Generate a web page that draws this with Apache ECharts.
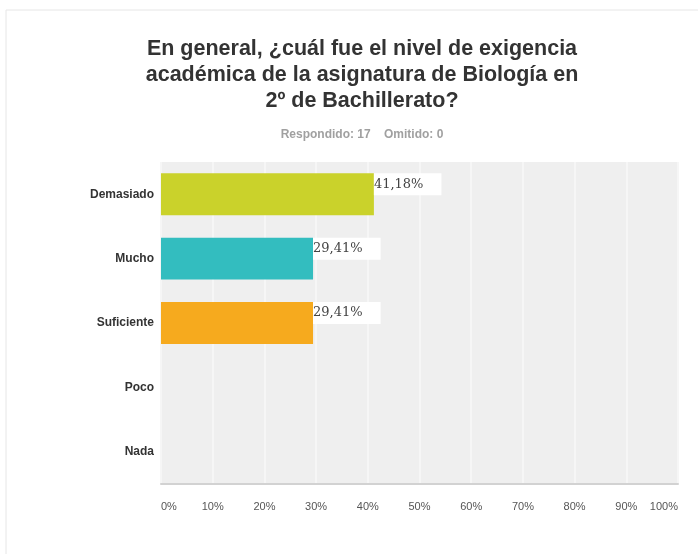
<!DOCTYPE html>
<html>
<head>
<meta charset="utf-8">
<script src="https://cdn.jsdelivr.net/npm/echarts@6/dist/echarts.min.js"></script>
<style>
  html, body { margin: 0; padding: 0; background: #ffffff; }
  #chart { width: 698px; height: 554px; }
</style>
</head>
<body>
<div id="chart"></div>
<script>
// Survey answers: share of respondents per level (percent)
const categories = ['Demasiado', 'Mucho', 'Suficiente', 'Poco', 'Nada'];
const percentages = [41.18, 29.41, 29.41, 0, 0];
const xTicks = [0, 10, 20, 30, 40, 50, 60, 70, 80, 90, 100];
const answered = 17;
const skipped = 0;

const barColors = ['#cad22b', '#33bdbf', '#f6aa1e', '#9f9f9f', '#9f9f9f'];

const fmtPct = v => v.toFixed(2).replace('.', ',') + '%';

const chart = echarts.init(document.getElementById('chart'), null, { renderer: 'canvas' });

chart.setOption({
  backgroundColor: '#ffffff',
  animation: false,
  title: {
    text: 'En general, ¿cuál fue el nivel de exigencia\nacadémica de la asignatura de Biología en\n2º de Bachillerato?',
    subtext: 'Respondido: ' + answered + '    Omitido: ' + skipped,
    left: 357,
    top: 31,
    textAlign: 'center',
    itemGap: 15,
    textStyle: {
      fontFamily: 'Liberation Sans, Arial, sans-serif',
      fontSize: 21.5,
      fontWeight: 'bold',
      lineHeight: 26,
      color: '#333333'
    },
    subtextStyle: {
      fontFamily: 'Liberation Sans, Arial, sans-serif',
      fontSize: 12,
      fontWeight: 'bold',
      color: '#a0a0a0'
    }
  },
  graphic: [
    {
      type: 'polyline',
      silent: true,
      shape: { points: [[6, 554], [6, 10], [698, 10]] },
      style: { stroke: '#e6e6e6', lineWidth: 1, fill: null }
    }
  ],
  grid: {
    left: 161,
    right: 20,
    top: 162,
    bottom: 70,
    show: true,
    backgroundColor: '#efefef',
    borderWidth: 0,
    containLabel: false
  },
  xAxis: {
    type: 'value',
    min: xTicks[0],
    max: xTicks[xTicks.length - 1],
    interval: xTicks[1] - xTicks[0],
    axisLine: { show: true, lineStyle: { color: '#d2d2d2', width: 2 } },
    axisTick: { show: false },
    splitLine: { show: true, lineStyle: { color: '#f6f6f6', width: 2 } },
    axisLabel: {
      formatter: '{value}%',
      margin: 17,
      fontFamily: 'Liberation Sans, Arial, sans-serif',
      fontSize: 11,
      color: '#555555',
      alignMinLabel: 'left',
      alignMaxLabel: 'right'
    }
  },
  yAxis: {
    type: 'category',
    data: categories,
    inverse: true,
    axisLine: { show: false },
    axisTick: { show: false },
    splitLine: { show: false },
    axisLabel: {
      margin: 7,
      fontFamily: 'Liberation Sans, Arial, sans-serif',
      fontSize: 12,
      fontWeight: 'bold',
      color: '#333333'
    }
  },
  series: [
    {
      type: 'bar',
      barCategoryGap: '35%',
      data: percentages.map((v, i) => ({
        value: v,
        itemStyle: { color: barColors[i] },
        label: { show: v > 0 }
      })),
      label: {
        position: ['100%', 0],
        formatter: p => fmtPct(p.value),
        fontFamily: 'DejaVu Serif, Liberation Serif, serif',
        fontSize: 13,
        lineHeight: 16,
        color: '#444444',
        backgroundColor: '#ffffff',
        padding: [3, 18, 3, 0]
      }
    }
  ]
});
</script>
</body>
</html>
